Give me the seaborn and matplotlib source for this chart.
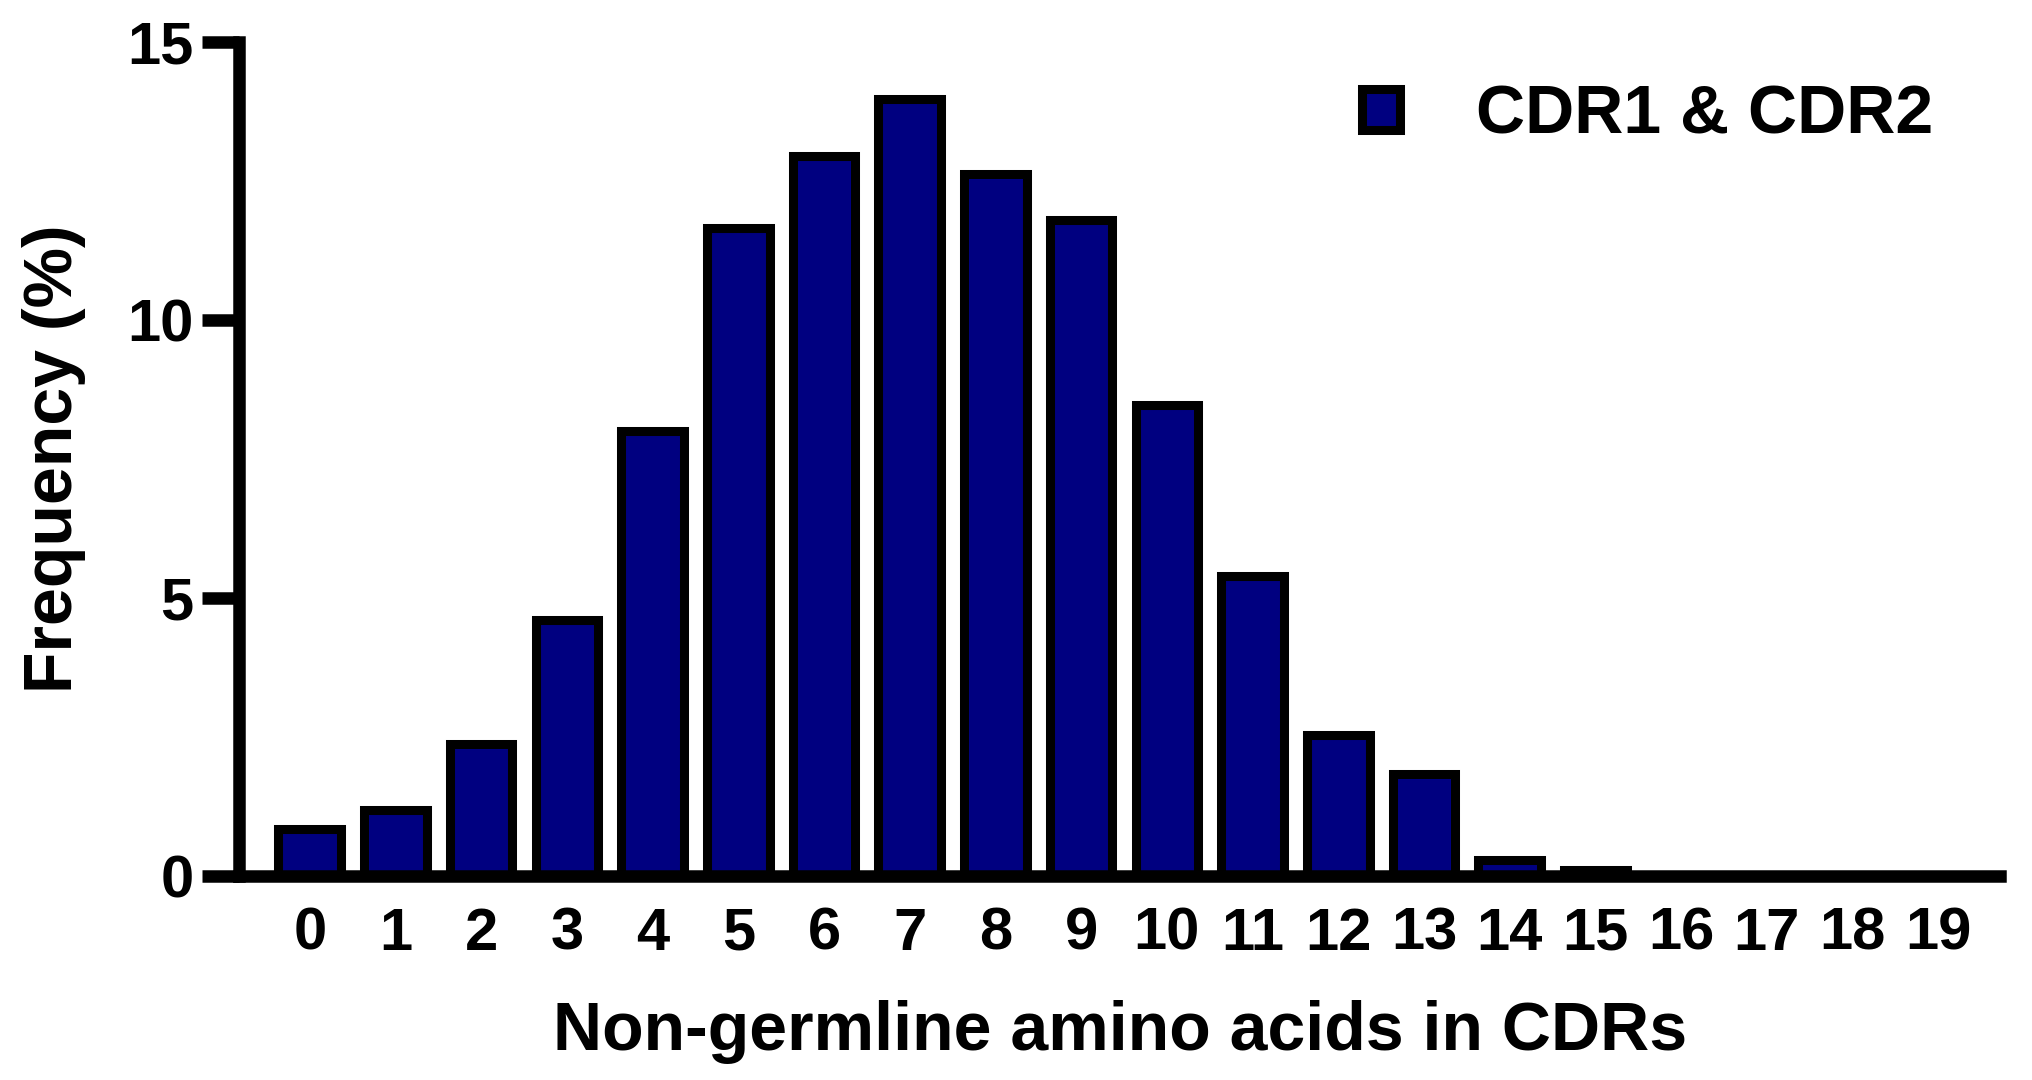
import pandas as pd
import matplotlib
matplotlib.use('Agg')
import matplotlib.pyplot as plt
import seaborn as sns

# Data
residues = [str(i) for i in range(20)]
frequency = [0.85, 1.18, 2.37, 4.6, 8.0, 11.65, 12.95, 13.97, 12.63, 11.8,
             8.47, 5.4, 2.53, 1.83, 0.28, 0.1, 0, 0, 0, 0]
series_name = 'CDR1 & CDR2'

df = pd.DataFrame({'Residues': residues, 'Frequency': frequency,
                   'Series': series_name})

sns.set_style('white')
plt.rcParams['font.family'] = ['Liberation Sans', 'DejaVu Sans']
plt.rcParams['font.weight'] = 'bold'
plt.rcParams['text.color'] = 'black'
plt.rcParams['axes.labelcolor'] = 'black'
plt.rcParams['xtick.color'] = 'black'
plt.rcParams['ytick.color'] = 'black'

fig = plt.figure(figsize=(20.33, 10.8), dpi=100)
ax = fig.add_axes([0.1178, 0.1889, 0.866, 0.7722])

sns.barplot(data=df, x='Residues', y='Frequency', hue='Series', order=residues,
            palette=['#000080'], saturation=1, dodge=False, width=0.73,
            edgecolor='black', linewidth=6.5, ax=ax)

ax.set_xlim(-0.82, 19.72)
ax.set_ylim(0, 15)
ax.set_yticks([0, 5, 10, 15])

for side in ['top', 'right']:
    ax.spines[side].set_visible(False)
for side in ['left', 'bottom']:
    ax.spines[side].set_linewidth(9)
    ax.spines[side].set_color('black')

ax.tick_params(axis='y', left=True, length=27, width=9, pad=6, labelsize=43,
               colors='black')
ax.tick_params(axis='x', bottom=False, length=0, pad=22, labelsize=43,
               colors='black')

ax.set_xlabel('Non-germline amino acids in CDRs', fontsize=49, fontweight='bold', labelpad=28)
ax.set_ylabel('Frequency (%)', fontsize=49, fontweight='bold', labelpad=30)

leg = ax.legend(loc='center left', bbox_to_anchor=(0.670, 0.893),
                bbox_transform=fig.transFigure, frameon=False, fontsize=49,
                handlelength=0.55, handleheight=0.55, handletextpad=1.12,
                borderpad=0, borderaxespad=0)
for t in leg.get_texts():
    t.set_fontweight('bold')

fig.savefig('out.png', dpi=100)
